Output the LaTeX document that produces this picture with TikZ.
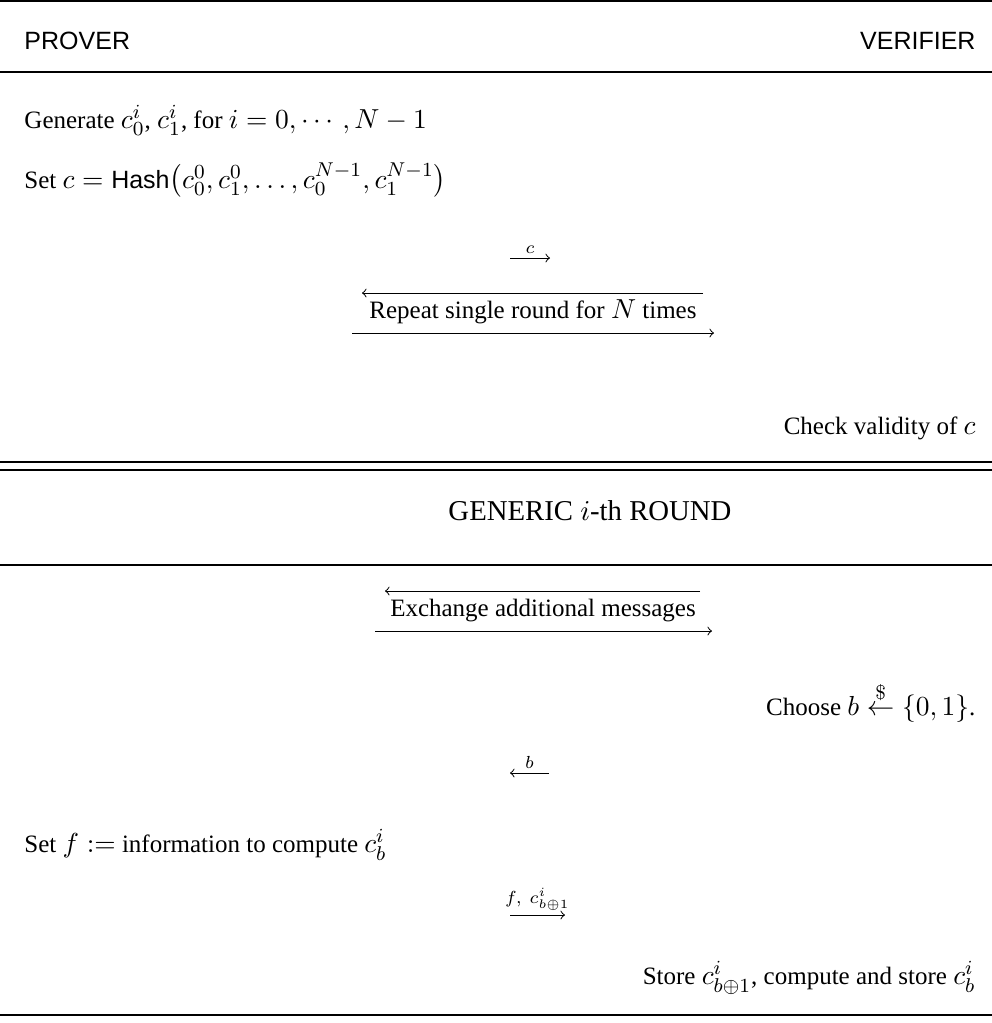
\documentclass[tikz,border=0pt]{standalone}
\usepackage{fix-cm}
\usepackage{amsmath}
\usepackage[no-math]{fontspec}
\setmainfont{Liberation Serif}
\setsansfont{Liberation Sans}
\DeclareMathSizes{10}{11}{8}{6}
\begin{document}
\begin{tikzpicture}[x=0.4pt,y=-0.4pt,
  rule/.style={line width=1pt},
  msg/.style={line width=0.4pt},
  lft/.style={anchor=base west, inner sep=0pt},
  rgt/.style={anchor=base east, inner sep=0pt},
  mid/.style={anchor=base, inner sep=0pt},
  lbl/.style={inner sep=1.5pt, font=\scriptsize}]
\useasboundingbox (0,0) rectangle (992,1023);
% rules
\coordinate (r1a) at (0,1);   \coordinate (r1b) at (992,1);
\coordinate (r2a) at (0,72);  \coordinate (r2b) at (992,72);
\coordinate (r3a) at (0,462); \coordinate (r3b) at (992,462);
\coordinate (r4a) at (0,470); \coordinate (r4b) at (992,470);
\coordinate (r5a) at (0,565); \coordinate (r5b) at (992,565);
\coordinate (r6a) at (0,1015); \coordinate (r6b) at (992,1015);
\foreach \a/\b in {r1a/r1b,r2a/r2b,r3a/r3b,r4a/r4b,r5a/r5b,r6a/r6b}
  \draw[rule] (\a) -- (\b);
% header
\node[lft, font=\sffamily] (prover) at (24,49) {PROVER};
\node[rgt, font=\sffamily] (verifier) at (976,49) {VERIFIER};
% setup phase
\node[lft] (gen) at (24,128) {Generate $c_0^i$, $c_1^i$, for $i=0,\cdots,N-1$};
\node[lft] (setc) at (24,188) {Set $c=\mbox{\sffamily Hash}\bigl(c_0^0,c_1^0,\ldots,c_0^{N-1},c_1^{N-1}\bigr)$};
\coordinate (ca) at (510,258); \coordinate (cb) at (550,258);
\draw[msg,-to] (ca) -- node[lbl, above] (clbl) {$c$} (cb);
\coordinate (ra) at (703,293); \coordinate (rb) at (362,293);
\draw[msg,-to] (ra) -- (rb);
\node[mid] (rep) at (533,318) {Repeat single round for $N$ times};
\coordinate (rc) at (352,333); \coordinate (rd) at (714,333);
\draw[msg,-to] (rc) -- (rd);
\node[rgt] (check) at (976,434) {Check validity of $c$};
% generic round
\node[lft, font=\fontsize{11.5}{13}\selectfont] (generic) at (448,520) {GENERIC $i$-th ROUND};
\coordinate (ea) at (700,591); \coordinate (eb) at (385,591);
\draw[msg,-to] (ea) -- (eb);
\node[mid] (exch) at (543,616) {Exchange additional messages};
\coordinate (ec) at (375,631); \coordinate (ed) at (712,631);
\draw[msg,-to] (ec) -- (ed);
\node[rgt] (choose) at (976,715) {Choose $b\stackrel{\$}{\leftarrow}\{0,1\}$.};
\coordinate (ba) at (549,773); \coordinate (bb) at (510,773);
\draw[msg,-to] (ba) -- node[lbl, above] (blbl) {$b$} (bb);
\node[lft] (setf) at (24,852) {Set $f:=$ information to compute $c_b^i$};
\coordinate (fa) at (510,915); \coordinate (fb) at (565,915);
\draw[msg,-to] (fa) -- node[lbl, above] (flbl) {$f,\ c_{b\oplus1}^i$} (fb);
\node[rgt] (store) at (976,984) {Store $c_{b\oplus1}^i$, compute and store $c_b^i$};
\end{tikzpicture}
\end{document}
